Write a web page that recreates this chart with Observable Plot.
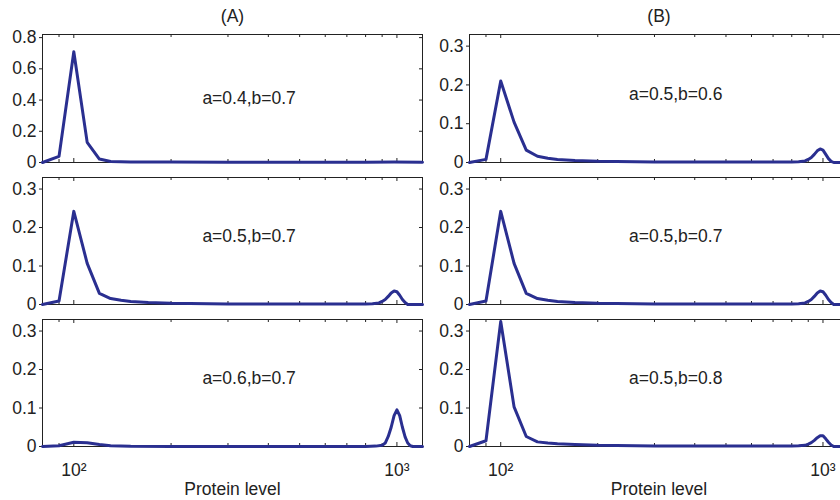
<!DOCTYPE html>
<html><head><meta charset="utf-8">
<script src="https://cdn.jsdelivr.net/npm/d3@7"></script>
<script src="https://cdn.jsdelivr.net/npm/@observablehq/plot@0.6"></script>
<style>
body{margin:0;background:#fff;}
#chart{position:relative;width:840px;height:500px;overflow:hidden;background:#fff;}
#chart svg{position:absolute;}
</style></head><body><div id="chart"></div>
<script>
// ---- data ----
const columnTitles = ["(A)", "(B)"];
const xAxisLabel = "Protein level";
const xDomain = [80, 1200];
const xMajorTicks = [100, 1000];
const xMinorTicks = [80, 90, 200, 300, 400, 500, 600, 700, 800, 900];
const xTickLabels = ["10\u00b2", "10\u00b3"];
const yTicksTall = [0, 0.2, 0.4, 0.6, 0.8];
const yTicksShort = [0, 0.1, 0.2, 0.3];
const yMaxTall = 0.82;
const yMaxShort = 0.33;

// panel A1: a=0.4,b=0.7
const xA1 = [80, 90, 100, 110, 120, 130, 150, 200, 300, 500, 800, 980, 1200];
const yA1 = [0, 0.039, 0.71, 0.129, 0.022, 0.007, 0.004, 0.003, 0.002, 0.002, 0.002, 0.003, 0.002];

// shared grid for the bimodal panels
const xGrid = [80, 90, 100, 110, 120, 130, 140, 150, 170, 200, 300, 500, 800, 840, 880, 900, 920, 940, 960, 980, 1000, 1020, 1040, 1060, 1080, 1200];
// panel A2: a=0.5,b=0.7
const yA2 = [0, 0.009, 0.242, 0.107, 0.029, 0.0155, 0.011, 0.008, 0.005, 0.003, 0.0015, 0.001, 0.0015, 0.002, 0.004, 0.008, 0.013, 0.021, 0.030, 0.035, 0.033, 0.024, 0.013, 0.005, 0, 0];
// panel B1: a=0.5,b=0.6
const yB1 = [0, 0.008, 0.21, 0.104, 0.032, 0.016, 0.011, 0.008, 0.005, 0.003, 0.0015, 0.001, 0.0015, 0.002, 0.004, 0.008, 0.013, 0.021, 0.030, 0.035, 0.032, 0.021, 0.010, 0.003, 0, 0];
// panel B2: a=0.5,b=0.7
const yB2 = [0, 0.009, 0.242, 0.107, 0.029, 0.0155, 0.011, 0.008, 0.005, 0.003, 0.0015, 0.001, 0.0015, 0.002, 0.004, 0.008, 0.013, 0.021, 0.030, 0.035, 0.033, 0.024, 0.013, 0.005, 0, 0];
// panel B3: a=0.5,b=0.8
const yB3 = [0, 0.015, 0.325, 0.103, 0.026, 0.012, 0.009, 0.007, 0.005, 0.003, 0.0015, 0.001, 0.0015, 0.002, 0.003, 0.006, 0.010, 0.016, 0.023, 0.028, 0.028, 0.020, 0.011, 0.004, 0, 0];

// panel A3: a=0.6,b=0.7
const xA3 = [80, 90, 100, 110, 120, 130, 150, 200, 500, 800, 860, 900, 920, 940, 960, 980, 1000, 1020, 1040, 1060, 1080, 1100, 1120, 1200];
const yA3 = [0, 0.002, 0.011, 0.010, 0.005, 0.002, 0.0005, 0, 0, 0, 0.001, 0.003, 0.009, 0.026, 0.05, 0.08, 0.095, 0.08, 0.05, 0.025, 0.009, 0.002, 0, 0];

const panelLabels = ["a=0.4,b=0.7", "a=0.5,b=0.7", "a=0.6,b=0.7", "a=0.5,b=0.6", "a=0.5,b=0.7", "a=0.5,b=0.8"];
const labelX = [250, 250, 250, 250, 250, 250];
const labelY = [0.41, 0.177, 0.178, 0.176, 0.177, 0.178];

const panels = [
  {col: 0, row: 0, xs: xA1, ys: yA1},
  {col: 0, row: 1, xs: xGrid, ys: yA2},
  {col: 0, row: 2, xs: xA3, ys: yA3},
  {col: 1, row: 0, xs: xGrid, ys: yB1},
  {col: 1, row: 1, xs: xGrid, ys: yB2},
  {col: 1, row: 2, xs: xGrid, ys: yB3}
];

// ---- layout ----
const lineColor = "#2a2f90";
const ink = "#222";
const font = "'Liberation Sans', Arial, Helvetica, sans-serif";
const fs = 17.5;
const frameTops = [34, 177, 319];
const frameHeights = [128, 127, 127];
const W = 424;

const chart = document.getElementById("chart");

panels.forEach((p, i) => {
  const mL = p.col === 0 ? 42 : 45;
  const mR = p.col === 0 ? 2 : 0;
  const mT = p.row === 0 ? 34 : 2;
  const mB = p.row === 2 ? 54 : 2;
  const fh = frameHeights[p.row];
  const H = mT + fh + mB;
  const pw = W - mL - mR;
  const tall = p.col === 0 && p.row === 0;
  const yTicks = tall ? yTicksTall : yTicksShort;
  const yMax = tall ? yMaxTall : yMaxShort;
  const data = p.xs.map((x, k) => ({x, y: p.ys[k]}));
  const bottom = p.row === 2;

  const marks = [
    Plot.frame({stroke: ink, strokeWidth: 1}),
    Plot.axisY({ticks: yTicks, tickSize: 3, tickPadding: 3, stroke: ink, fontSize: fs,
      tickFormat: d => d === 0 ? "0" : String(d), label: null}),
    Plot.tickY(yTicks, {y: d => d, insetLeft: pw - 3, stroke: ink}),
    Plot.tickX(xMajorTicks, {x: d => d, insetBottom: fh - 4, stroke: ink}),
    Plot.tickX(xMajorTicks, {x: d => d, insetTop: fh - 4, stroke: ink}),
    Plot.tickX(xMinorTicks, {x: d => d, insetBottom: fh - 3, stroke: ink}),
    Plot.tickX(xMinorTicks, {x: d => d, insetTop: fh - 3, stroke: ink}),
    Plot.line(data, {x: "x", y: "y", stroke: lineColor, strokeWidth: 3}),
    Plot.text([panelLabels[i]], {x: labelX[i], y: labelY[i], textAnchor: "start", fontSize: fs, fill: ink})
  ];
  if (bottom) {
    marks.push(Plot.axisX({ticks: xMajorTicks, tickSize: 0, tickPadding: 17, fontSize: fs,
      tickFormat: d => xTickLabels[xMajorTicks.indexOf(d)], label: null}));
    marks.push(Plot.text([xAxisLabel], {frameAnchor: "bottom", lineAnchor: "middle", dy: 42.6, fontSize: fs, fill: ink}));
  }
  if (p.row === 0) {
    marks.push(Plot.text([columnTitles[p.col]], {frameAnchor: "top", lineAnchor: "middle", dy: -17.7, fontSize: fs, fill: ink}));
  }

  const svg = Plot.plot({
    width: W, height: H,
    marginLeft: mL, marginRight: mR, marginTop: mT, marginBottom: mB,
    x: {type: "log", domain: xDomain, axis: bottom ? undefined : null},
    y: {domain: [0, yMax]},
    style: {fontFamily: font, fontSize: fs + "px", color: ink, background: "transparent", overflow: "visible"},
    marks
  });
  svg.style.position = "absolute";
  svg.style.left = (p.col === 0 ? 0 : W) + "px";
  svg.style.top = (frameTops[p.row] - mT) + "px";
  svg.style.maxWidth = "none";
  chart.appendChild(svg);
});
</script>
</body></html>
